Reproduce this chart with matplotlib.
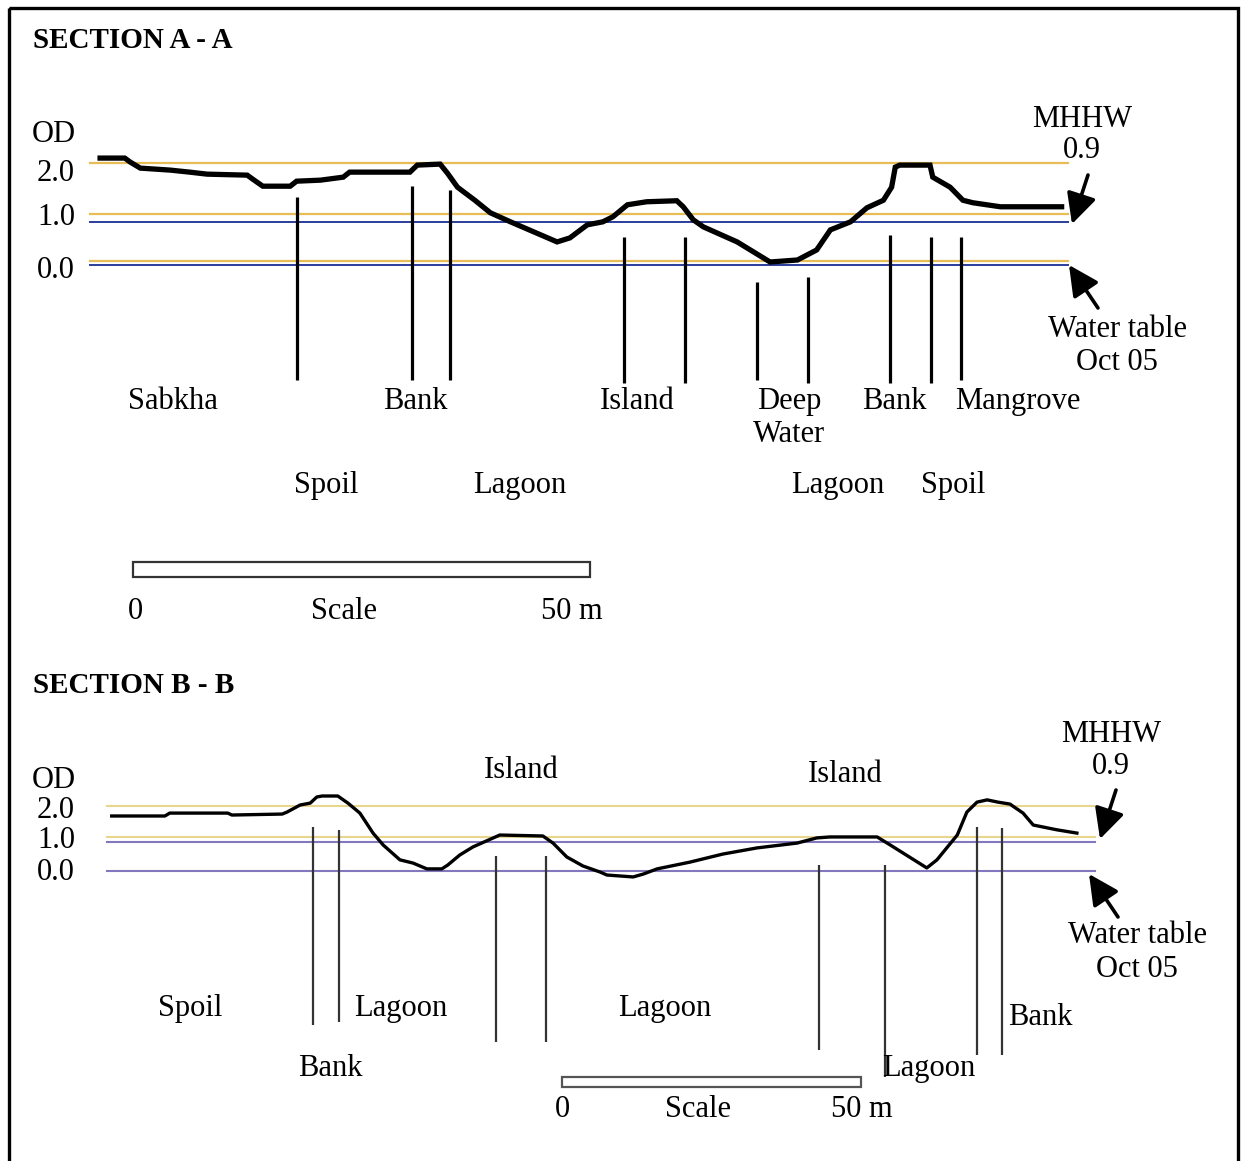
import matplotlib
matplotlib.use("Agg")
import matplotlib.pyplot as plt
from matplotlib.patches import Rectangle

plt.rcParams['font.family'] = ['Liberation Serif', 'DejaVu Serif']

W, H = 1247, 1161

# ---- Section A - A : distance (m) and level (m OD) ----
a_dist = [-3.6, -0.9, -0.3, 0.8, 4.1, 6.2, 8.1, 12.5, 13.1, 14.2,
          17.2, 17.9, 20.5, 23.0, 23.7, 30.3, 31.1, 33.6, 34.4, 35.5,
          37.4, 39.1, 41.3, 46.4, 47.8, 49.7, 51.4, 52.5, 54.1, 56.2,
          59.5, 60.2, 61.3, 62.4, 66.1, 69.7, 72.7, 74.8, 76.3, 78.5,
          80.3, 82.1, 83.0, 83.4, 83.9, 87.2, 87.5, 89.4, 90.8, 91.9,
          94.9, 101.6]
a_od = [2.09, 2.09, 2.01, 1.89, 1.85, 1.81, 1.77, 1.75, 1.67, 1.53,
        1.53, 1.63, 1.65, 1.71, 1.81, 1.81, 1.95, 1.97, 1.79, 1.51,
        1.25, 1.00, 0.82, 0.42, 0.50, 0.76, 0.82, 0.92, 1.16, 1.22,
        1.24, 1.12, 0.86, 0.72, 0.42, 0.02, 0.06, 0.26, 0.66, 0.82,
        1.10, 1.25, 1.51, 1.91, 1.95, 1.95, 1.71, 1.51, 1.25, 1.20,
        1.12, 1.12]
a_mark_x = [17.9, 30.5, 34.7, 53.7, 60.4, 68.3, 73.9, 82.8, 87.3, 90.6]
a_mark_top = [1.31, 1.53, 1.45, 0.52, 0.52, -0.38, -0.28, 0.56, 0.52, 0.52]
a_mark_bot = [-2.33, -2.33, -2.33, -2.39, -2.39, -2.33, -2.39, -2.39, -2.39, -2.33]
a_yellow = [2.0, 0.98, 0.03]
a_blue = [0.82, -0.04]
a_span = (-4.7, 102.3)

# ---- Section B - B ----
b_dist = [-75.3, -66.4, -65.6, -55.9, -55.2, -46.8, -46.0, -43.8, -42.1, -41.0,
          -40.1, -37.5, -35.8, -33.8, -31.6, -29.9, -27.1, -24.9, -22.6, -20.1,
          -19.1, -17.1, -14.9, -11.5, -10.4, -3.2, -1.5, 0.8, 3.5, 6.4,
          7.5, 11.9, 13.6, 15.9, 21.4, 26.9, 32.6, 39.3, 42.6, 44.8,
          52.7, 54.9, 61.0, 62.7, 66.1, 67.7, 69.4, 71.1, 72.9, 74.9,
          77.1, 78.8, 82.8, 86.1]
b_od = [1.69, 1.69, 1.78, 1.78, 1.72, 1.75, 1.81, 2.03, 2.09, 2.28,
        2.31, 2.31, 2.09, 1.78, 1.16, 0.79, 0.33, 0.23, 0.05, 0.05,
        0.17, 0.48, 0.73, 1.01, 1.10, 1.07, 0.85, 0.42, 0.14, -0.05,
        -0.14, -0.20, -0.11, 0.05, 0.26, 0.51, 0.70, 0.85, 1.01, 1.04,
        1.04, 0.79, 0.08, 0.33, 1.10, 1.81, 2.12, 2.19, 2.12, 2.06,
        1.78, 1.41, 1.26, 1.16]
b_mark_x = [-41.6, -37.3, -11.0, -2.7, 43.0, 54.0, 69.4, 73.6]
b_mark_top = [1.35, 1.26, 0.45, 0.45, 0.17, 0.17, 1.35, 1.32]
b_mark_bot = [-4.79, -4.70, -5.32, -5.32, -5.57, -6.40, -5.72, -5.72]
b_yellow = [2.0, 1.05]
b_purple = [0.89, 0.0]
b_span = (-76.1, 89.1)

scale_len = 50


def section_axes(fig, x0, px_m, y0, px_od):
    # axes over the whole figure; x0/y0 = pixel of 0 m / 0.0 OD
    ax = fig.add_axes([0, 0, 1, 1])
    ax.set_xlim(-x0 / px_m, (W - x0) / px_m)
    ax.set_ylim((y0 - H) / px_od, y0 / px_od)
    ax.axis('off')
    ax.patch.set_alpha(0)
    return ax


fig = plt.figure(figsize=(W / 100, H / 100), dpi=100)

# Section A
ax_a = section_axes(fig, 133, 9.14, 263, 50.2)
for lv in a_yellow:
    ax_a.plot(a_span, [lv, lv], color='#e9bd55', lw=1.6, zorder=1)
for lv in a_blue:
    ax_a.plot(a_span, [lv, lv], color='#2a3d9c', lw=1.4, zorder=1)
ax_a.vlines(a_mark_x, a_mark_bot, a_mark_top, color='black', lw=2.3, zorder=2)
ax_a.plot(a_dist, a_od, color='black', lw=3.8, solid_joinstyle='miter', zorder=3)
ax_a.add_patch(Rectangle((0, -6.25), scale_len, 0.29, facecolor='white',
                         edgecolor='#333333', lw=1.6))

# Section B
ax_b = section_axes(fig, 562, 5.98, 870.5, 32.25)
for lv in b_yellow:
    ax_b.plot(b_span, [lv, lv], color='#e8d68f', lw=1.5, zorder=1)
for lv in b_purple:
    ax_b.plot(b_span, [lv, lv], color='#8577bd', lw=1.5, zorder=1)
ax_b.vlines(b_mark_x, b_mark_bot, b_mark_top, color='#333333', lw=1.6, zorder=2)
ax_b.plot(b_dist, b_od, color='black', lw=2.4, zorder=3)
ax_b.add_patch(Rectangle((0, -6.7), scale_len, 0.31, facecolor='white',
                         edgecolor='#555555', lw=1.6))

# Text layer in pixel coordinates
ax_t = fig.add_axes([0, 0, 1, 1])
ax_t.set_xlim(0, W)
ax_t.set_ylim(H, 0)
ax_t.axis('off')
ax_t.patch.set_alpha(0)

ax_t.add_patch(Rectangle((9, 8), 1229, 1170, fill=False, edgecolor='black', lw=2.4))


def label(x, y, s, ha='center', size=22, **kw):
    ax_t.text(x, y, s, ha=ha, va='baseline', fontsize=size, **kw)


# Section A text
label(33, 48, 'SECTION A - A', ha='left', fontweight='bold', size=21)
label(32, 142, 'OD', ha='left')
for y, s in [(181, '2.0'), (225, '1.0'), (278, '0.0')]:
    label(75, y, s, ha='right')
label(1082, 127, 'MHHW')
label(1082, 158, '0.9')
label(1117, 337, 'Water table')
label(1117, 370, 'Oct 05')
for x, y, s in [(173, 409, 'Sabkha'), (415, 409, 'Bank'), (637, 409, 'Island'),
                (789, 409, 'Deep'), (789, 442, 'Water'), (894, 409, 'Bank'),
                (1018, 409, 'Mangrove'), (326, 493, 'Spoil'), (520, 493, 'Lagoon'),
                (838, 493, 'Lagoon'), (953, 493, 'Spoil')]:
    label(x, y, s)
for x, s in [(135, '0'), (344, 'Scale'), (572, '50 m')]:
    label(x, 619, s)

# Section B text
label(33, 693, 'SECTION B - B', ha='left', fontweight='bold', size=21)
label(32, 788, 'OD', ha='left')
for y, s in [(818, '2.0'), (848, '1.0'), (880, '0.0')]:
    label(75, y, s, ha='right')
label(1111, 742, 'MHHW')
label(1111, 774, '0.9')
label(1137, 943, 'Water table')
label(1137, 977, 'Oct 05')
for x, y, s in [(521, 778, 'Island'), (845, 782, 'Island'), (190, 1016, 'Spoil'),
                (401, 1016, 'Lagoon'), (665, 1016, 'Lagoon'), (330, 1076, 'Bank'),
                (929, 1076, 'Lagoon'), (1040, 1025, 'Bank')]:
    label(x, y, s)
for x, s in [(562, '0'), (698, 'Scale'), (862, '50 m')]:
    label(x, 1117, s)

# Arrows
arrow = dict(arrowstyle='-|>', color='black', lw=2.6, mutation_scale=46,
             shrinkA=0, shrinkB=0)
for tail, tip in [((1088, 175), (1072, 224)), ((1098, 308), (1069, 265)),
                  ((1116, 790), (1100, 839)), ((1118, 917), (1089, 874))]:
    ax_t.annotate('', xy=tip, xytext=tail, arrowprops=arrow)

fig.savefig('out.png', dpi=100)
